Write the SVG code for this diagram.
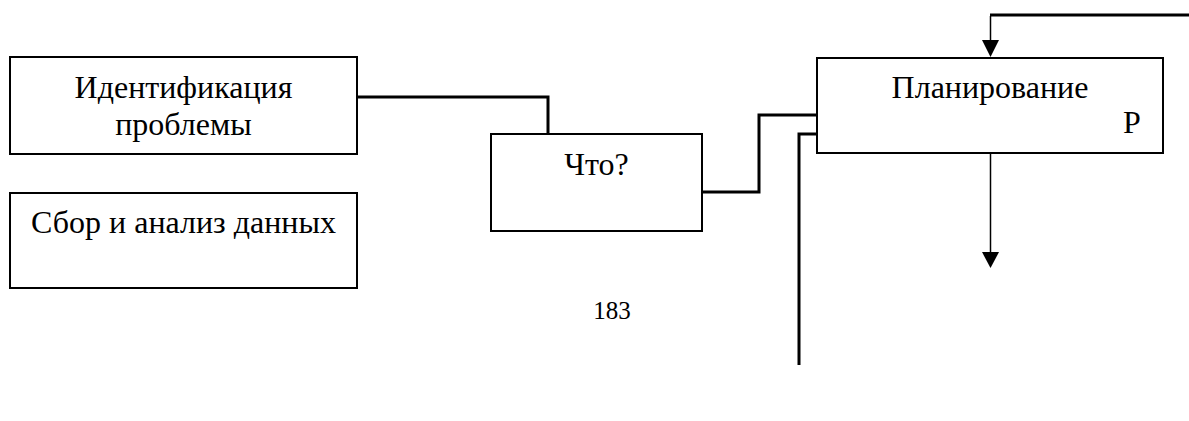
<svg xmlns="http://www.w3.org/2000/svg" width="1189" height="421" viewBox="0 0 1189 421">
<style>
.box{fill:#fff;stroke:#000;stroke-width:2}
text{font-family:'Liberation Serif','DejaVu Serif','Noto Serif',serif;font-size:32px;fill:#000}
.c{text-anchor:middle}
.w{fill:none;stroke:#000;stroke-width:3}
.a{fill:none;stroke:#000;stroke-width:1.5}
</style>
<rect width="1189" height="421" fill="#fff"/>
<g id="connectors">
<polyline class="w" points="357,97 548,97 548,134"/>
<polyline class="w" points="702,192 759,192 759,115 817,115"/>
<polyline class="w" points="817,134 799,134 799,365"/>
<line class="w" x1="990" y1="15" x2="1189" y2="15"/>
<path d="M990.5,16 L990.5,40" class="a"/>
<path d="M982,40 L999,40 L990.5,57 Z" fill="#000"/>
<path d="M990.5,153 L990.5,252" class="a"/>
<path d="M982,252 L999,252 L990.5,268 Z" fill="#000"/>
</g>
<g id="n1">
<rect class="box" x="10" y="57" width="347" height="97"/>
<text class="c" x="183.5" y="98" font-family="Liberation Serif, serif">Идентификация</text>
<text class="c" x="183.5" y="135" font-family="Liberation Serif, serif">проблемы</text>
</g>
<g id="n2">
<rect class="box" x="10" y="193" width="347" height="95"/>
<text class="c" x="183.5" y="233" font-family="Liberation Serif, serif">Сбор и анализ данных</text>
</g>
<g id="n3">
<rect class="box" x="491" y="134" width="211" height="97"/>
<text class="c" x="596.5" y="175" font-family="Liberation Serif, serif">Что?</text>
</g>
<g id="n4">
<rect class="box" x="817" y="58" width="346" height="95"/>
<text class="c" x="990" y="98" font-family="Liberation Serif, serif">Планирование</text>
<text x="1123" y="133" font-family="Liberation Serif, serif">P</text>
</g>
<text class="c" x="612" y="319" font-family="Liberation Serif, serif" style="font-size:25px">183</text>
</svg>
